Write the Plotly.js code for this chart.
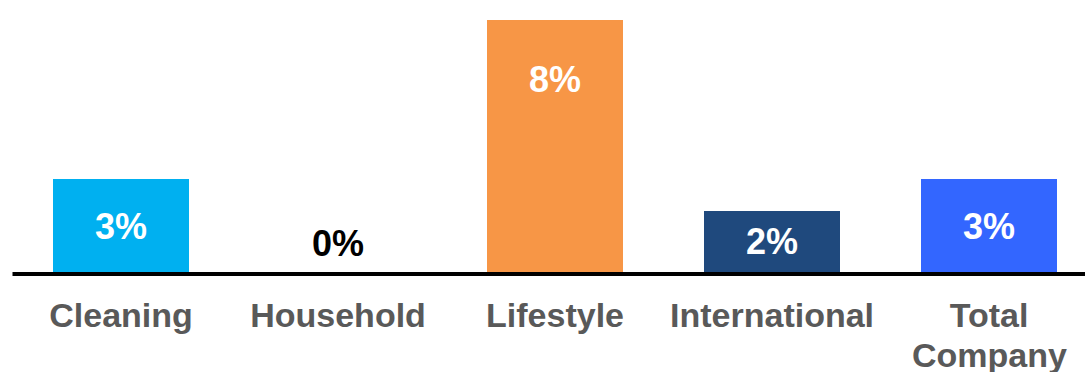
<!DOCTYPE html>
<html>
<head>
<meta charset="utf-8">
<script src="https://cdn.plot.ly/plotly-3.0.1.min.js"></script>
<style>html,body{margin:0;padding:0;background:#fff;}#chart{width:1085px;height:372px;}</style>
</head>
<body>
<div id="chart"></div>
<script>
// ---- data ----
const categories = ["Cleaning", "Household", "Lifestyle", "International", "Total Company"];
const values = [2.95, 0, 8.0, 1.95, 2.95];
const labels = values.map(v => Math.round(v) + "%");

// ---- styling ----
const barColors = ["#00B0F0", "#FFFFFF", "#F79646", "#1F497D", "#3366FF"];
const labelColors = ["#FFFFFF", "#000000", "#FFFFFF", "#FFFFFF", "#FFFFFF"];
const labelPos = [1.43, 0.89, 6.1, 0.97, 1.43];
const FONT = "Liberation Sans, Arial, sans-serif";

const x = categories.map((c, i) => i);

// split two-word long category into first line (tick) and second line (annotation)
const firstLines = categories.map(c => c.indexOf(" ") > 0 && c.length > 12 ? c.split(" ")[0] : c);
const secondLines = categories.map(c => c.indexOf(" ") > 0 && c.length > 12 ? c.split(" ").slice(1).join(" ") : "");

const trace = {
  type: "bar",
  x: x,
  y: values,
  marker: { color: barColors, line: { width: 0 } },
  width: 0.627,
  hoverinfo: "skip"
};

const annotations = labels.map((t, i) => ({
  x: i, y: labelPos[i], xref: "x", yref: "y",
  text: "<b>" + t + "</b>", showarrow: false,
  xanchor: "center", yanchor: "middle",
  font: { family: FONT, size: 36, color: labelColors[i] }
}));
secondLines.forEach((s, i) => {
  if (s) annotations.push({
    x: i, y: 0, xref: "x", yref: "paper", yshift: -83,
    text: "<b>" + s + "</b>", showarrow: false,
    xanchor: "center", yanchor: "middle",
    font: { family: FONT, size: 34, color: "#595959" }
  });
});

const layout = {
  width: 1085, height: 372,
  margin: { l: 0, r: 0, t: 0, b: 100, pad: 0 },
  paper_bgcolor: "#fff", plot_bgcolor: "#fff",
  showlegend: false,
  bargap: 0,
  xaxis: {
    range: [-0.5576, 4.442],
    tickmode: "array", tickvals: x,
    ticktext: firstLines.map(c => "<b>" + c + "</b>"),
    showgrid: false, zeroline: false, showline: false, ticks: "",
    ticklabelstandoff: 20,
    tickfont: { family: FONT, size: 34, color: "#595959" }
  },
  yaxis: {
    range: [0, 8.635], visible: false, showgrid: false, zeroline: false
  },
  shapes: [{
    type: "line", xref: "x", yref: "paper",
    x0: -0.5, x1: 4.442, y0: -0.00735, y1: -0.00735,
    line: { color: "#000", width: 4 }
  }],
  annotations: annotations
};

Plotly.newPlot("chart", [trace], layout, { displayModeBar: false, staticPlot: true });
</script>
</body>
</html>
